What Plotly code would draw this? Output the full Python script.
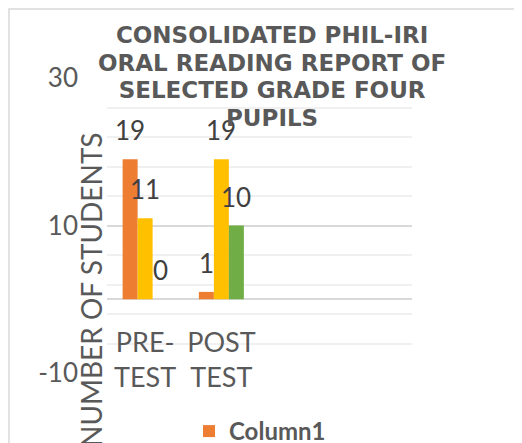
import plotly.graph_objects as go

categories = ["PRE-<br>TEST", "POST<br>TEST"]
series_names = ["Column1", "Column2", "Column3"]
column1 = [19, 1]
column2 = [11, 19]
column3 = [0, 10]
series_values = [column1, column2, column3]
colors = ["#ED7D31", "#FFC000", "#70AD47"]
title_lines = ["CONSOLIDATED PHIL-IRI", "ORAL READING REPORT OF",
               "SELECTED GRADE FOUR", "PUPILS"]
y_title = "NUMBER OF STUDENTS"
y_tickvals = [-10, 10, 30]
y_ticktext = ["-10", "10", "30"]

OFF = 8  # page body margin
W, H = 522 - OFF, 443 - OFF
L, R, T, B = 107 - OFF, 412 - OFF, 78 - OFF, 373 - OFF
ML, MR, MT, MB = L, W - R, T, H - B
pw, ph = R - L, B - T


def px_x(px):
    return (px - OFF - L) / pw


def px_y(py):
    return (B - (py - OFF)) / ph


GREY = "#595959"
fig = go.Figure()
for i, (name, vals, col) in enumerate(zip(series_names, series_values, colors)):
    fig.add_trace(go.Bar(x=categories, y=vals, name=name, marker_color=col,
                         marker_line_width=0, showlegend=(i == 0)))

annotations = []
bar_px = 15
for i, vals in enumerate(series_values):
    for c, v in zip(categories, vals):
        annotations.append(dict(x=c, y=v, xref="x", yref="y", text=str(v),
                                showarrow=False, xshift=(i - 1) * bar_px, yshift=29,
                                font=dict(family="Lato", size=26, color="#404040")))

title_text = "<br>".join(f"<span style='font-size:23px'>{ln}</span>" for ln in title_lines)
annotations.append(dict(x=px_x(272), y=px_y(76), xref="paper", yref="paper",
                        text=title_text, showarrow=False,
                        xanchor="center", yanchor="middle",
                        font=dict(family="DejaVu Sans", size=21.3, color=GREY, weight="bold")))

annotations.append(dict(x=px_x(91), y=px_y(290), xref="paper", yref="paper",
                        text=y_title, textangle=-90, showarrow=False,
                        xanchor="center", yanchor="middle",
                        font=dict(family="Lato", size=28, color=GREY)))

fig.update_layout(
    width=W, height=H,
    margin=dict(l=ML, r=MR, t=MT, b=MB, pad=0, autoexpand=False),
    paper_bgcolor="white", plot_bgcolor="white",
    barmode="group", bargap=0.41, bargroupgap=0,
    annotations=annotations,
    legend=dict(orientation="h", xref="container", yref="container",
                x=(189 - OFF) / W, y=1 - (409 - OFF) / H, xanchor="left", yanchor="top",
                font=dict(family="Lato", size=24, color=GREY, weight="bold"),
                bgcolor="rgba(0,0,0,0)"),
    shapes=[dict(type="rect", xref="paper", yref="paper",
                 x0=px_x(9), x1=px_x(560), y0=px_y(520), y1=px_y(9),
                 line=dict(color="#D9D9D9", width=1.5), layer="below")],
)
fig.update_xaxes(range=[-0.5, 3.5], anchor="free", position=px_y(299),
                 showgrid=False, showline=False, zeroline=False,
                 tickfont=dict(family="Lato", size=27, color=GREY),
                 ticklabelstandoff=25)
fig.update_yaxes(range=[-10, 30], tickvals=y_tickvals, ticktext=y_ticktext,
                 showgrid=True, gridcolor="#D9D9D9", gridwidth=2,
                 zeroline=True, zerolinecolor="#D9D9D9", zerolinewidth=2,
                 minor=dict(dtick=4, tick0=-10, showgrid=True, gridcolor="#F0F0F0", gridwidth=1.5),
                 tickfont=dict(family="Lato", size=26, color=GREY),
                 ticklabelstandoff=28, showline=False)

fig.write_html("out.html")
